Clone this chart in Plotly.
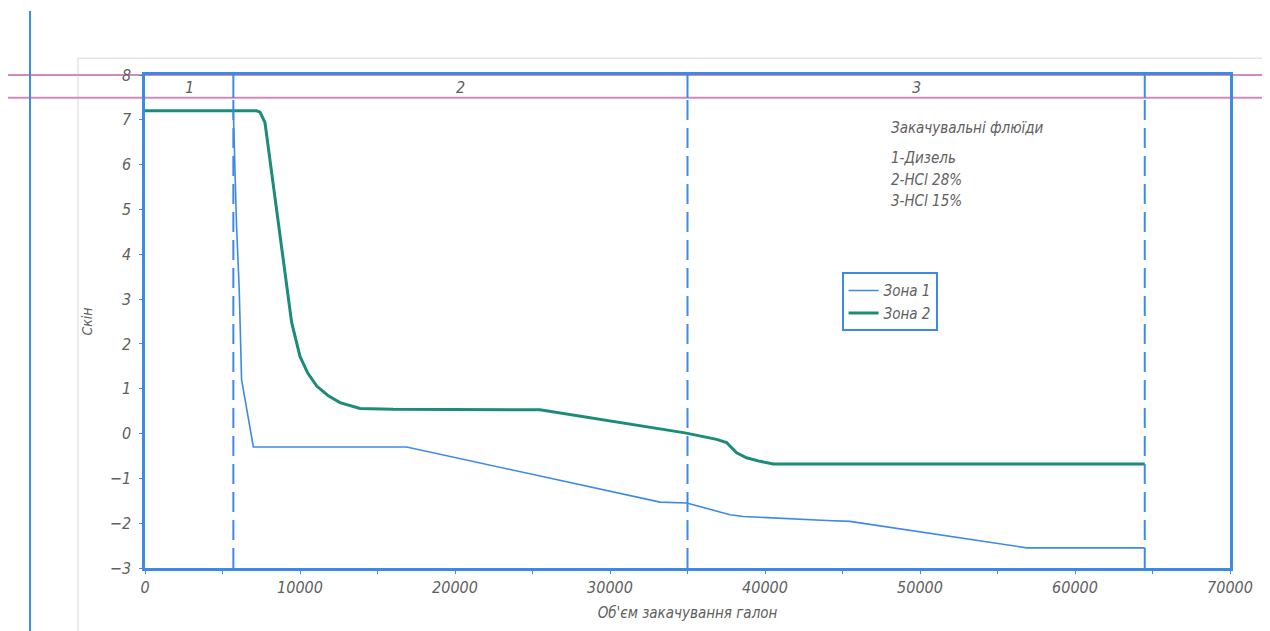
import plotly.graph_objects as go

# ---- data ----
zone1_x = [0, 5700, 5900, 6080, 6230, 6990, 16880, 33230, 34950, 37740, 38600, 40110, 43980, 45480, 56880, 64500]
zone1_y = [7.2, 7.2, 4.7, 3.2, 1.2, -0.3, -0.3, -1.53, -1.55, -1.81, -1.85, -1.88, -1.94, -1.96, -2.55, -2.55]

zone2_x = [0, 7200, 7420, 7740, 9460, 10000, 10500, 11080, 11800, 12580, 13870, 16000, 25480, 34840,
           36880, 37520, 38170, 38810, 39680, 40540, 64500]
zone2_y = [7.2, 7.2, 7.17, 6.94, 2.48, 1.72, 1.35, 1.06, 0.85, 0.69, 0.56, 0.54, 0.53, 0.015,
           -0.13, -0.2, -0.43, -0.54, -0.62, -0.68, -0.68]

zone_bounds = [0, 5700, 35000, 64500]
zone_labels = ["1", "2", "3"]
series_names = ["Зона 1", "Зона 2"]
fluid_title = "Закачувальні флюїди"
fluid_lines = ["1-Дизель", "2-HCl 28%", "3-HCl 15%"]
x_ticks = [0, 10000, 20000, 30000, 40000, 50000, 60000, 70000]
y_ticks = [-3, -2, -1, 0, 1, 2, 3, 4, 5, 6, 7, 8]
y_min, y_max, band_y = -3, 8, 7.49

BLUE = "#3d8ae6"
GREEN = "#1b8c7a"
PINK = "#d08cbc"
TXT = "#606060"
FONT = "Liberation Sans Narrow, DejaVu Sans Condensed, Arial Narrow, sans-serif"

fig = go.Figure()
fig.add_trace(go.Scatter(x=zone1_x, y=zone1_y, mode="lines", name=series_names[0],
                         line=dict(color=BLUE, width=1.6)))
fig.add_trace(go.Scatter(x=zone2_x, y=zone2_y, mode="lines", name=series_names[1],
                         line=dict(color=GREEN, width=3)))

shapes = []
# outer decorations (drawing sheet)
shapes.append(dict(type="rect", xref="paper", yref="paper", x0=-0.0618, x1=1.032, y0=-0.2, y1=1.034,
                   line=dict(color="#e4e4e4", width=1.5), layer="below"))
for yv in [y_max, band_y]:
    yp = (yv - y_min) / (y_max - y_min)
    shapes.append(dict(type="line", xref="paper", yref="paper", x0=-0.13, x1=1.04, y0=yp, y1=yp,
                       line=dict(color=PINK, width=2), layer="below"))
shapes.append(dict(type="line", xref="paper", yref="paper", x0=-0.106, x1=-0.106, y0=-0.2, y1=1.13,
                   line=dict(color=BLUE, width=2), layer="below"))
# zone boundaries
for b in zone_bounds[1:]:
    shapes.append(dict(type="line", xref="x", yref="y", x0=b, x1=b, y0=y_min, y1=band_y,
                       line=dict(color=BLUE, width=2, dash="20px,8px")))
    shapes.append(dict(type="line", xref="x", yref="y", x0=b, x1=b, y0=band_y, y1=y_max,
                       line=dict(color=BLUE, width=2)))

annotations = []
for i, lab in enumerate(zone_labels):
    annotations.append(dict(x=(zone_bounds[i] + zone_bounds[i + 1]) / 2, y=7.72, text=lab,
                            showarrow=False, xref="x", yref="y",
                            font=dict(size=16, color=TXT, family=FONT, style="italic")))
annotations.append(dict(x=48000, y=6.82, text=fluid_title, showarrow=False, xanchor="left",
                        xref="x", yref="y", font=dict(size=15, color=TXT, family=FONT, style="italic")))
for i, t in enumerate(fluid_lines):
    annotations.append(dict(x=48000, y=6.14 - i * 0.475, text=t, showarrow=False, xanchor="left",
                            xref="x", yref="y", font=dict(size=15, color=TXT, family=FONT, style="italic")))

fig.update_layout(
    width=1270, height=631,
    margin=dict(l=137, r=48, t=67, b=71),
    paper_bgcolor="white", plot_bgcolor="white",
    font=dict(family=FONT, color=TXT, size=15, style="italic"),
    shapes=shapes, annotations=annotations,
    legend=dict(x=0.642, y=0.6, xanchor="left", yanchor="top",
                bordercolor=BLUE, borderwidth=2, bgcolor="white",
                font=dict(family=FONT, size=15, color=TXT, style="italic"),
                itemwidth=30, tracegroupgap=0),
    xaxis=dict(range=[0, 70000], tickvals=x_ticks, ticktext=[str(v) for v in x_ticks],
               showgrid=False, zeroline=False, showline=True, linecolor=BLUE, linewidth=2.5,
               mirror=True, ticks="outside", ticklen=3, tickcolor=BLUE,
               minor=dict(dtick=5000, ticks="outside", ticklen=3, tickcolor=BLUE),
               tickfont=dict(size=16, color=TXT, family=FONT, style="italic"),
               title=dict(text="Об'єм закачування галон", standoff=12,
                          font=dict(size=15, color=TXT, family=FONT, style="italic"))),
    yaxis=dict(range=[y_min, y_max], tickvals=y_ticks, showgrid=False, zeroline=False,
               showline=True, linecolor=BLUE, linewidth=2.5, mirror=True,
               ticks="outside", ticklen=3, tickcolor=BLUE, ticklabelstandoff=5,
               tickfont=dict(size=16, color=TXT, family=FONT, style="italic"),
               title=dict(text="Скін", standoff=14,
                          font=dict(size=14, color=TXT, family=FONT, style="italic"))),
)

fig.write_html("out.html")
